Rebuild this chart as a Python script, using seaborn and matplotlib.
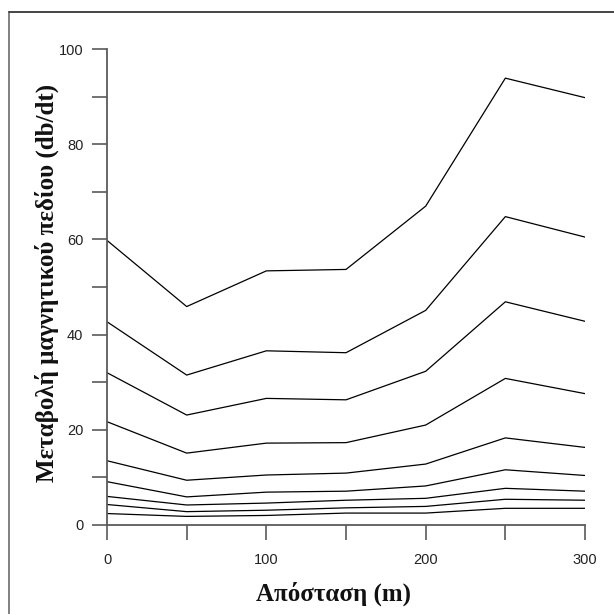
import matplotlib
matplotlib.use("Agg")
import matplotlib.pyplot as plt
from matplotlib.lines import Line2D
import numpy as np
import pandas as pd
import seaborn as sns

# Distance along the profile (m)
distance = [0, 50, 100, 150, 200, 250, 300]

# dB/dt decay curves, one per time gate (top = earliest gate)
gate_1 = [59.8, 45.9, 53.4, 53.7, 67.0, 93.9, 89.8]
gate_2 = [42.7, 31.5, 36.6, 36.2, 45.1, 64.8, 60.5]
gate_3 = [32.0, 23.1, 26.6, 26.3, 32.3, 46.9, 42.8]
gate_4 = [21.7, 15.1, 17.2, 17.3, 21.0, 30.8, 27.6]
gate_5 = [13.5, 9.4, 10.5, 10.9, 12.8, 18.3, 16.3]
gate_6 = [9.1, 5.9, 6.9, 7.1, 8.2, 11.6, 10.4]
gate_7 = [6.0, 4.2, 4.6, 5.2, 5.6, 7.7, 7.1]
gate_8 = [4.3, 2.8, 3.1, 3.6, 3.9, 5.4, 5.2]
gate_9 = [2.4, 1.8, 2.0, 2.5, 2.5, 3.5, 3.5]

gates = [gate_1, gate_2, gate_3, gate_4, gate_5, gate_6, gate_7, gate_8, gate_9]

x_ticks = [0, 100, 200, 300]
y_ticks = [0, 20, 40, 60, 80, 100]

df = pd.DataFrame(
    [(d, v, f"g{i}") for i, g in enumerate(gates) for d, v in zip(distance, g)],
    columns=["distance", "value", "gate"],
)

sns.set_style("ticks")
plt.rcParams["font.family"] = ["Liberation Sans", "DejaVu Sans"]

fig = plt.figure(figsize=(6.14, 6.14), dpi=100)
ax = fig.add_axes([0.1743, 0.145, 0.9528 - 0.1743, 0.920 - 0.145])

sns.lineplot(
    data=df, x="distance", y="value", hue="gate", units="gate", estimator=None,
    palette=["black"] * len(gates), linewidth=0.9, legend=False, ax=ax,
)

ax.set_xlim(0, 300)
ax.set_ylim(0, 100)
ax.set_xticks(x_ticks)
ax.set_xticks([50, 150, 250], minor=True)
ax.set_yticks(y_ticks)
ax.set_yticks([10, 30, 50, 70, 90], minor=True)
ax.set_xticklabels([str(t) for t in x_ticks])
ax.set_yticklabels([str(t) for t in y_ticks])

spine_col = "#5a5a5a"
for side in ["top", "right"]:
    ax.spines[side].set_visible(False)
for side in ["left", "bottom"]:
    ax.spines[side].set_color(spine_col)
    ax.spines[side].set_linewidth(1.3)
    ax.spines[side].set_position(("outward", 0))

ax.tick_params(which="both", direction="out", length=11, width=1.2,
               color=spine_col, labelsize=10.5, labelcolor="#222222")
ax.tick_params(axis="x", which="both", pad=9)
ax.tick_params(axis="y", which="both", pad=6)

label_font = dict(family=["Liberation Serif", "DejaVu Serif"], weight="bold",
                  size=18, color="#111111")
ax.set_xlabel("")
ax.set_ylabel("")
fig.text(333 / 614, 1 - 594 / 614, "Απόσταση (m)", ha="center", va="center",
         **label_font)
fig.text(47 / 614, 1 - 283 / 614, "Μεταβολή μαγνητικού πεδίου (db/dt)",
         ha="center", va="center", rotation=90, **label_font)

# Partial frame around the figure (left and top edges)
fx = 8.5 / 614
fy = 1 - 11.5 / 614
fig.add_artist(Line2D([fx, fx], [0, fy], transform=fig.transFigure,
                      color="#808080", linewidth=1.4))
fig.add_artist(Line2D([fx, 1], [fy, fy], transform=fig.transFigure,
                      color="#444444", linewidth=1.4))

fig.savefig("out.png", dpi=100)
